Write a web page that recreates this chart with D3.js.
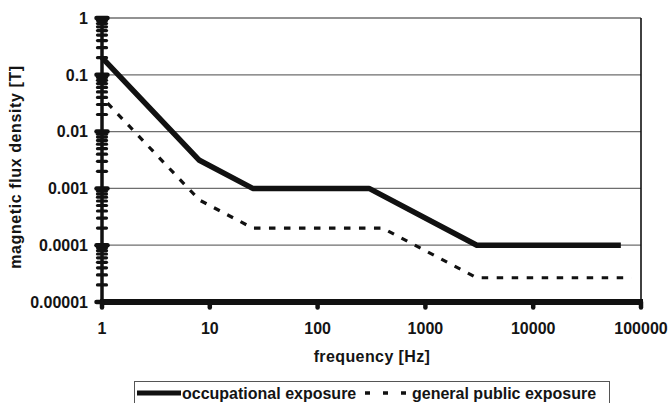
<!DOCTYPE html>
<html><head><meta charset="utf-8">
<script src="https://cdn.jsdelivr.net/npm/d3@7"></script>
<style>
html,body{margin:0;padding:0;background:#fff;}
svg{display:block;}
text{font-family:"Liberation Sans",Arial,sans-serif;font-weight:bold;fill:#141414;}
</style></head><body>
<svg id="c" width="669" height="403"></svg>
<script>
// Data (reference levels)
const occFreq = [1, 8, 25, 300, 3000, 65000];
const occB    = [0.2, 0.003125, 0.001, 0.001, 0.0001, 0.0001];
const pubFreq = [1, 8, 25, 400, 3000, 82000];
const pubB    = [0.04, 0.000625, 0.0002, 0.0002, 0.0000267, 0.0000267];
const xTicks  = [1, 10, 100, 1000, 10000, 100000];
const xTickLabels = ["1","10","100","1000","10000","100000"];
const yTicks  = [0.00001, 0.0001, 0.001, 0.01, 0.1, 1];
const yTickLabels = ["0.00001","0.0001","0.001","0.01","0.1","1"];
const seriesNames = ["occupational exposure","general public exposure"];

const svg = d3.select("#c");
const L = 102, R = 641, T = 18, B = 302;
const x = d3.scaleLog().domain([1, 100000]).range([L, R]);
const y = d3.scaleLog().domain([0.00001, 1]).range([B, T]);

// gridlines
svg.append("g").selectAll("line").data(yTicks.slice(1)).join("line")
  .attr("x1", L).attr("x2", R).attr("y1", d => y(d)).attr("y2", d => y(d))
  .attr("stroke", "#6e6e6e").attr("stroke-width", d => d === 1 ? 1.6 : 1.2);

// right border
svg.append("line").attr("x1", R).attr("x2", R).attr("y1", T).attr("y2", B)
  .attr("stroke", "#111").attr("stroke-width", 1.6);

// series
const lineGen = d3.line().x(d => x(d[0])).y(d => y(d[1]));
svg.append("path").datum(pubFreq.map((f, i) => [f, pubB[i]]))
  .attr("d", lineGen).attr("fill", "none").attr("stroke", "#111")
  .attr("stroke-width", 3.2).attr("stroke-dasharray", "6.5,8.5").attr("stroke-dashoffset", -8);
svg.append("path").datum(occFreq.map((f, i) => [f, occB[i]]))
  .attr("d", lineGen).attr("fill", "none").attr("stroke", "#111")
  .attr("stroke-width", 5.5).attr("stroke-linejoin", "round");

// y axis with minor ticks
const yMinor = [];
for (let e = -5; e < 0; e++) for (let m = 2; m <= 9; m++) yMinor.push(m * Math.pow(10, e));
const yAxis = svg.append("g");
yAxis.append("line").attr("x1", L).attr("x2", L).attr("y1", T - 2).attr("y2", B + 2)
  .attr("stroke", "#111").attr("stroke-width", 3.5);
yAxis.selectAll("line.mi").data(yMinor).join("line").attr("class", "mi")
  .attr("x1", L - 4.5).attr("x2", L + 4.5).attr("y1", d => y(d)).attr("y2", d => y(d))
  .attr("stroke", "#111").attr("stroke-width", 3.2).attr("stroke-linecap", "round");
yAxis.selectAll("line.ma").data(yTicks).join("line").attr("class", "ma")
  .attr("x1", L - 5.5).attr("x2", L + 5.5).attr("y1", d => y(d)).attr("y2", d => y(d))
  .attr("stroke", "#111").attr("stroke-width", 4.5).attr("stroke-linecap", "round");
yAxis.selectAll("text").data(yTicks).join("text")
  .attr("x", 88).attr("y", d => y(d)).attr("dy", "0.36em")
  .attr("text-anchor", "end").attr("font-size", 16)
  .text((d, i) => yTickLabels[i]);

// x axis
const xAxis = svg.append("g");
xAxis.append("line").attr("x1", L - 2).attr("x2", R + 2).attr("y1", B).attr("y2", B)
  .attr("stroke", "#111").attr("stroke-width", 6);
xAxis.selectAll("line.t").data(xTicks).join("line").attr("class", "t")
  .attr("x1", d => x(d)).attr("x2", d => x(d)).attr("y1", B).attr("y2", B + 5.5)
  .attr("stroke", "#111").attr("stroke-width", 4.5).attr("stroke-linecap", "round");
xAxis.selectAll("text").data(xTicks).join("text")
  .attr("x", d => x(d)).attr("y", 334)
  .attr("text-anchor", "middle").attr("font-size", 16)
  .text((d, i) => xTickLabels[i]);

// axis titles
svg.append("text").attr("x", 372).attr("y", 362).attr("text-anchor", "middle")
  .attr("font-size", 16).attr("letter-spacing", 0.4).text("frequency [Hz]");
svg.append("text").attr("transform", "translate(21,167) rotate(-90)")
  .attr("text-anchor", "middle").attr("font-size", 16).attr("letter-spacing", 0.6)
  .text("magnetic flux density [T]");

// legend
const lg = svg.append("g");
lg.append("rect").attr("x", 134.5).attr("y", 381.5).attr("width", 475).attr("height", 40)
  .attr("fill", "#fff").attr("stroke", "#555").attr("stroke-width", 1);
lg.append("line").attr("x1", 137).attr("x2", 181).attr("y1", 393).attr("y2", 393)
  .attr("stroke", "#111").attr("stroke-width", 5);
lg.append("text").attr("x", 182).attr("y", 399).attr("font-size", 16).text(seriesNames[0]);
lg.append("line").attr("x1", 365).attr("x2", 408).attr("y1", 393).attr("y2", 393)
  .attr("stroke", "#111").attr("stroke-width", 3.5).attr("stroke-dasharray", "5,13");
lg.append("text").attr("x", 412).attr("y", 399).attr("font-size", 16).text(seriesNames[1]);
</script>
</body></html>
